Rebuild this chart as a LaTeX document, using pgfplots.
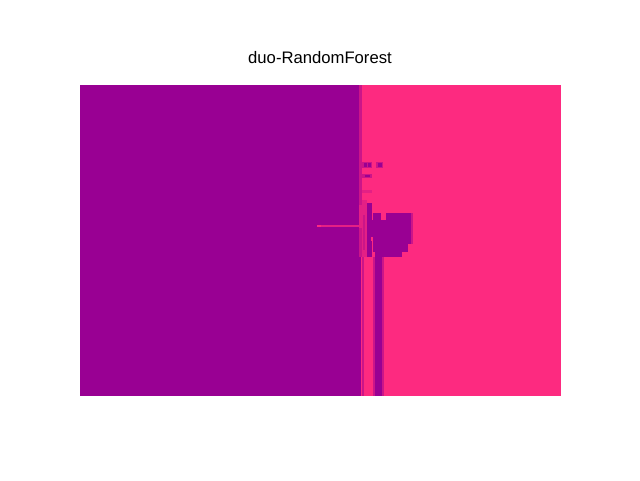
\documentclass[border=0pt]{standalone}
\usepackage{pgfplots}
\pgfplotsset{compat=1.18}
\usepackage{fontspec}
\setmainfont{Liberation Sans}
\definecolor{P}{RGB}{153,0,147}
\definecolor{K}{RGB}{253,42,128}
\definecolor{M}{RGB}{203,21,137}
\definecolor{L}{RGB}{228,32,133}
\newcommand{\R}[5]{\addplot[fill=#1,draw=none,forget plot] coordinates {(#2,#4) (#3,#4) (#3,#5) (#2,#5)} --cycle;}
\begin{document}
\begin{tikzpicture}[x=1pt,y=1pt]
\path (0,0) rectangle (480,360);
\begin{axis}[
  at={(60pt,63pt)}, anchor=south west,
  scale only axis, width=360.75pt, height=233.25pt,
  xmin=80, xmax=561, ymin=85, ymax=396, y dir=reverse,
  axis lines=none, ticks=none,
]
% base regions
\R{P}{80}{361}{85}{396}
\R{K}{361}{561}{85}{396}
\R{M}{359}{362}{85}{257}
\R{M}{361.5}{364}{257}{396}
% dots near boundary
\R{M}{360}{372}{162}{168}
\R{P}{363.5}{367}{163}{167}
\R{P}{368}{371}{163}{167}
\R{M}{376}{383}{162}{168}
\R{P}{377.5}{382}{163}{167}
\R{M}{362}{372}{173.5}{177.5}
\R{P}{365}{370}{174.5}{176.5}
\R{L}{362}{372}{190}{193}
% central structure
\R{L}{359}{363}{205}{228}
\R{L}{362}{367}{200}{257}
\R{M}{363}{365}{215}{250}
\R{P}{367}{372}{203}{257}
\R{P}{371}{375}{220}{237}
\R{K}{371}{375}{237}{241}
\R{P}{373}{411}{212.5}{252}
\R{K}{381}{386}{212.5}{220}
\R{M}{411}{413}{212.5}{244}
\R{K}{408}{412}{244}{252}
\R{P}{375}{402}{252}{257}
% lower stripes
\R{M}{373}{375.5}{257}{396}
\R{P}{375}{381.5}{257}{396}
\R{M}{381.5}{384}{257}{396}
% horizontal line
\R{L}{317}{362}{224.5}{227}
\R{K}{317}{321}{224.5}{227}
\end{axis}
\node[anchor=base, font=\fontsize{12.5}{15}\selectfont] at (240,312.5) {duo-RandomForest};
\end{tikzpicture}
\end{document}
